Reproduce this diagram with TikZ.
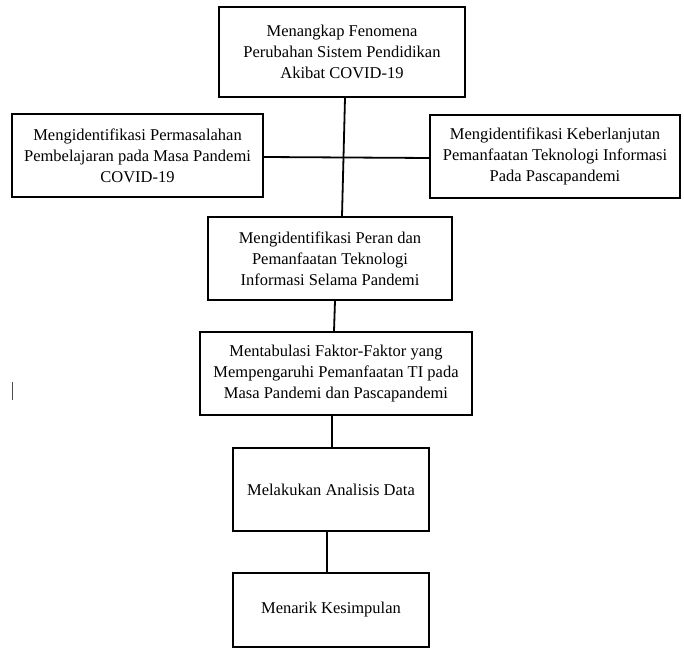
\documentclass[tikz,border=0pt]{standalone}
\usepackage{fontspec}
\setmainfont{Liberation Serif}
\usetikzlibrary{calc}
\begin{document}
\begin{tikzpicture}[x=1pt,y=1pt,
  box/.style={draw=black,line width=1.8pt,align=center,inner sep=0pt,
    font=\fontsize{16.5}{21}\selectfont},
  conn/.style={draw=black,line width=1.8pt}]
\useasboundingbox (0,0) rectangle (684,648);
\node[box,minimum width=246pt,minimum height=90pt] (top) at (342,596)
  {Menangkap Fenomena\\Perubahan Sistem Pendidikan\\Akibat COVID-19};
\node[box,minimum width=251pt,minimum height=83pt] (left) at (137.5,492.5)
  {Mengidentifikasi Permasalahan\\Pembelajaran pada Masa Pandemi\\COVID-19};
\node[box,minimum width=250pt,minimum height=83pt] (right) at (555,491.5)
  {Mengidentifikasi Keberlanjutan\\Pemanfaatan Teknologi Informasi\\Pada Pascapandemi};
\node[box,minimum width=244pt,minimum height=83pt] (peran) at (330,389.5)
  {Mengidentifikasi Peran dan\\Pemanfaatan Teknologi\\Informasi Selama Pandemi};
\node[box,minimum width=272pt,minimum height=83pt] (tab) at (336,274.5)
  {Mentabulasi Faktor-Faktor yang\\Mempengaruhi Pemanfaatan TI pada\\Masa Pandemi dan Pascapandemi};
\node[box,minimum width=196pt,minimum height=83pt] (ana) at (331,158.5)
  {Melakukan Analisis Data};
\node[box,minimum width=196pt,minimum height=74pt] (kes) at (331,38)
  {Menarik Kesimpulan};
\draw[conn] ($(top.south)+(3,0)$) -- ($(peran.north)+(12,0)$);
\draw[conn] ($(left.east)+(0,-1.5)$) -- ($(right.west)+(0,-1.5)$);
\draw[conn] ($(peran.south)+(5,0)$) -- ($(tab.north)+(-2,0)$);
\draw[conn] ($(tab.south)+(-4,0)$) -- ($(ana.north)+(1,0)$);
\draw[conn] ($(ana.south)+(-4,0)$) -- ($(kes.north)+(-4,0)$);
\coordinate (c1) at (12,266);
\coordinate (c2) at (12,248);
\draw[line width=1pt,black!70] (c1) -- (c2);
\end{tikzpicture}
\end{document}
